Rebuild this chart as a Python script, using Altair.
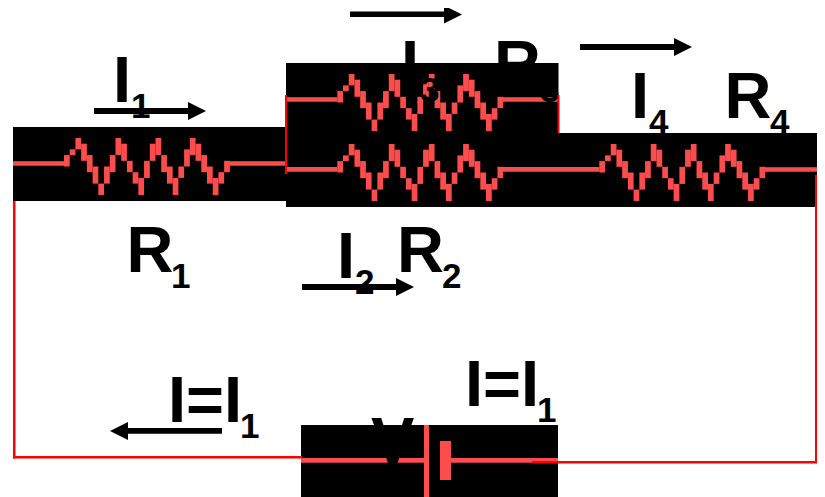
import altair as alt
import pandas as pd

# ---- values, in picture pixels ----
BLOCK_X = [13, 286, 558, 301]
BLOCK_X2 = [286, 558.5, 817, 558]
BLOCK_Y = [127, 63, 133, 425]
BLOCK_Y2 = [201, 207, 207, 497]

# zigzag resistor cells (column -> first row, row after last), 29 columns
ZIG_TOP = [3, 2, 0, 1, 3, 5, 8, 5, 3, 0, 1, 4, 6, 7, 4, 1, 0, 3, 5, 7, 5, 2, 0, 1, 3, 5, 7, 6, 4]
ZIG_BOT = [5, 3, 2, 4, 6, 8, 10, 8, 6, 3, 4, 6, 8, 10, 7, 4, 3, 6, 8, 10, 7, 5, 3, 4, 6, 8, 10, 8, 6]
RES_X = [64, 337.3, 337.3, 599.3]
RES_Y = [138, 74, 144, 144]

# pale wires: x, x2, y, y2
PALE_X = [13, 229, 286, 501.7, 286, 501.7, 762.7, 301, 451, 424, 440]
PALE_X2 = [64, 286, 337.3, 558, 337.3, 599.3, 817, 424, 558, 429, 451]
PALE_Y = [161.3, 161.3, 97.3, 97.3, 167, 167, 167.3, 458, 458, 425, 441]
PALE_Y2 = [165.7, 165.7, 101.7, 101.7, 171.7, 171.7, 171.7, 462.7, 462.7, 497, 480]

# bright wires
WIRE_X = [13, 13, 285, 557.5, 815, 532]
WIRE_X2 = [15.5, 302, 287, 559.5, 817, 817]
WIRE_Y = [201, 456, 95, 95, 175, 461]
WIRE_Y2 = [458.5, 458.5, 174, 133, 463, 463.5]

# arrow shafts
SHAFT_X = [94, 350, 580, 302, 127]
SHAFT_X2 = [190, 446, 676, 397, 222]
SHAFT_Y = [108, 11.5, 44, 284, 428]
SHAFT_Y2 = [114, 17, 50, 290, 433.7]

# arrow heads (centres)
HEAD_R_X = [197, 453, 683, 405]
HEAD_R_Y = [111, 14.5, 47, 287]
HEAD_L_X = [119]
HEAD_L_Y = [431]

# text labels
MAIN_TEXT = ["I", "R", "I", "R", "I", "R", "I", "R", "V", "I=I", "I=I"]
MAIN_X = [113, 126.5, 337, 397, 401, 494, 631, 724.5, 371, 465, 168]
MAIN_Y = [102, 272, 278, 272, 86, 86, 118, 118, 463, 406, 422]
SUB_TEXT = ["1", "1", "2", "2", "3", "3", "4", "4", "1", "1"]
SUB_X = [131, 171, 355, 442, 420, 540, 649, 770, 537, 240]
SUB_Y = [118, 288, 293.5, 288, 102, 102, 134, 134, 422, 438]

PALE = "#ff4d4d"
CELL_W = 5.72
CELL_H = 5.7

blocks = pd.DataFrame({"x": BLOCK_X, "x2": BLOCK_X2, "y": BLOCK_Y, "y2": BLOCK_Y2})
pale = pd.DataFrame({"x": PALE_X, "x2": PALE_X2, "y": PALE_Y, "y2": PALE_Y2})
wires = pd.DataFrame({"x": WIRE_X, "x2": WIRE_X2, "y": WIRE_Y, "y2": WIRE_Y2})
shafts = pd.DataFrame({"x": SHAFT_X, "x2": SHAFT_X2, "y": SHAFT_Y, "y2": SHAFT_Y2})
cells = pd.DataFrame(
    [
        {
            "x": rx + i * CELL_W,
            "x2": rx + (i + 1) * CELL_W,
            "y": ry + t * CELL_H,
            "y2": ry + b * CELL_H,
        }
        for rx, ry in zip(RES_X, RES_Y)
        for i, (t, b) in enumerate(zip(ZIG_TOP, ZIG_BOT))
    ]
)
main = pd.DataFrame({"t": MAIN_TEXT, "x": MAIN_X, "y": MAIN_Y})
sub = pd.DataFrame({"t": SUB_TEXT, "x": SUB_X, "y": SUB_Y})
head_r = pd.DataFrame({"x": HEAD_R_X, "y": HEAD_R_Y})
head_l = pd.DataFrame({"x": HEAD_L_X, "y": HEAD_L_Y})

xs = alt.Scale(domain=[8, 817], nice=False, zero=False)
ys = alt.Scale(domain=[497, 8], nice=False, zero=False)
X = alt.X("x:Q", scale=xs, axis=None)
Y = alt.Y("y:Q", scale=ys, axis=None)


def rects(df, color):
    return alt.Chart(df).mark_rect(color=color, strokeWidth=0).encode(x=X, x2="x2:Q", y=Y, y2="y2:Q")


def labels(df, size):
    return (
        alt.Chart(df)
        .mark_text(
            font="Liberation Sans",
            fontWeight="bold",
            fontSize=size,
            color="black",
            align="left",
            baseline="alphabetic",
        )
        .encode(x=X, y=Y, text="t:N")
    )


def heads(df, path):
    return (
        alt.Chart(df)
        .mark_point(shape=path, size=324, filled=True, color="black", opacity=1, strokeWidth=0)
        .encode(x=X, y=Y)
    )


chart = (
    alt.layer(
        rects(blocks, "black"),
        rects(pale, PALE),
        rects(cells, PALE),
        labels(main, 65),
        labels(sub, 35),
        rects(shafts, "black"),
        heads(head_r, "M-1,-1L1,0L-1,1Z"),
        heads(head_l, "M1,-1L-1,0L1,1Z"),
        rects(wires, "#ff0000"),
    )
    .properties(width=809, height=489, autosize=alt.AutoSizeParams(type="none"), padding=0, background="white")
    .configure_view(stroke=None)
)

chart.save("out.html", embed_options={"renderer": "svg", "actions": False})
